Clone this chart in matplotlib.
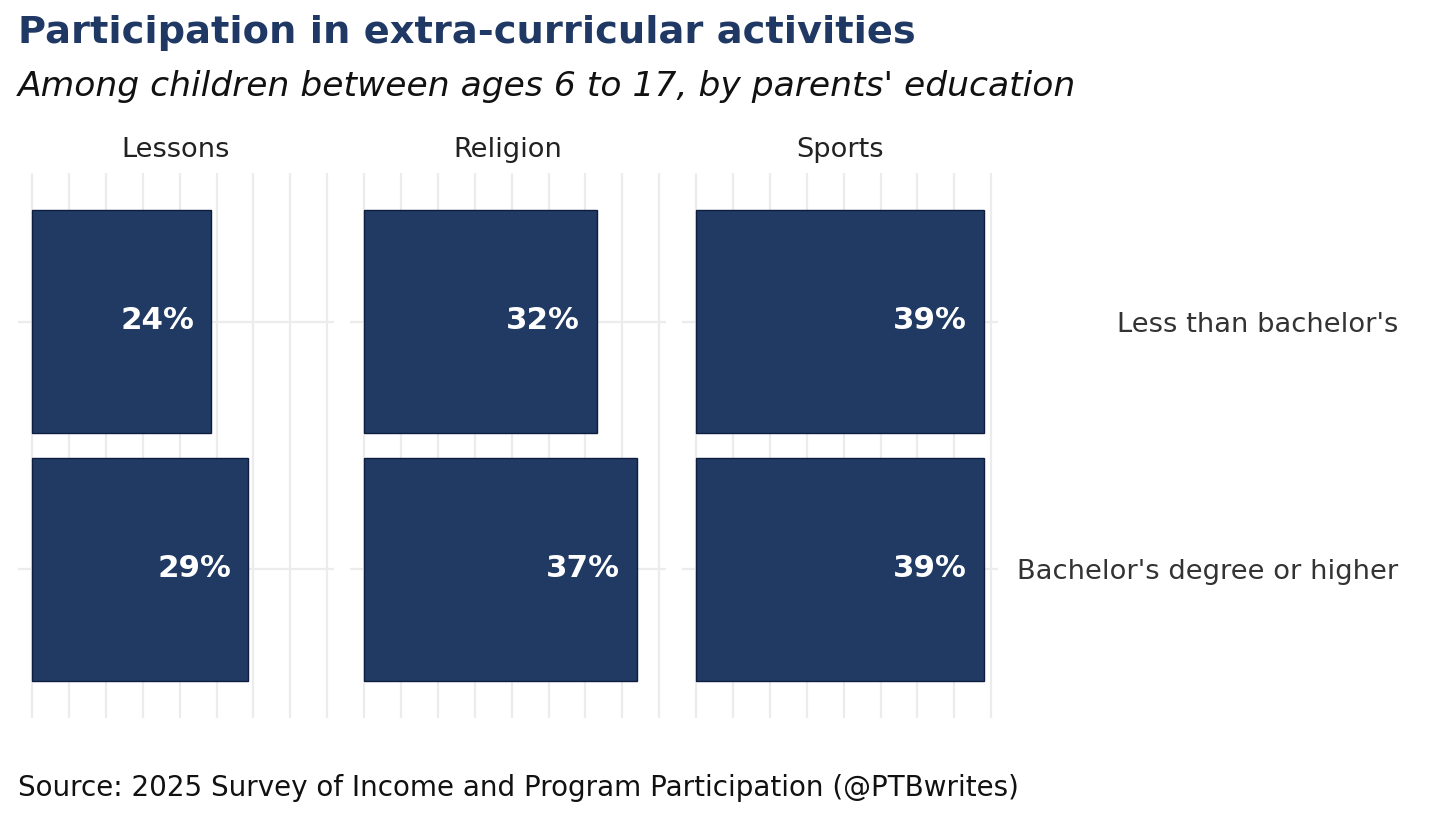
import matplotlib
matplotlib.use("Agg")
import matplotlib.pyplot as plt
from matplotlib.transforms import blended_transform_factory

# ---- data ----
activities = ["Lessons", "Religion", "Sports"]
education = ["Less than bachelor's", "Bachelor's degree or higher"]
less_than_ba = [24.3, 31.6, 39.0]
ba_or_higher = [29.3, 37.0, 39.0]
value_labels_less = ["24%", "32%", "39%"]
value_labels_ba = ["29%", "37%", "39%"]
grid_ticks = [0, 5, 10, 15, 20, 25, 30, 35, 40]

title = "Participation in extra-curricular activities"
subtitle = "Among children between ages 6 to 17, by parents' education"
source = "Source: 2025 Survey of Income and Program Participation (@PTBwrites)"

# ---- style ----
W, H, DPI = 1456, 819, 100
NAVY = "#1f3864"
BAR = "#213a64"
EDGE = "#0e1d3d"
GRID = "#ececec"
TXT = "#333333"
FONT = "DejaVu Sans"
plt.rcParams["font.family"] = [FONT]

fig = plt.figure(figsize=(W / DPI, H / DPI), dpi=DPI)
renderer = fig.canvas.get_renderer()


def fit_size(s, target_px, **kw):
    t = fig.text(0, 0, s, fontsize=20, **kw)
    w = t.get_window_extent(renderer).width
    t.remove()
    return 20 * target_px / w


def px_x(x):
    return x / W


def px_y(y):
    return 1 - y / H


# panels (pixel coordinates of the reference)
panel_left = [18, 350, 682]
panel_w = 316
top, bottom = 173, 718

xmin, xmax = 0.0, 39.0
pad = 0.05 * (xmax - xmin)

lab_size = fit_size("24%", 74, fontweight="bold")
strip_size = fit_size("Lessons", 108)
ylab_size = fit_size("Less than bachelor's", 280)

axes = []
for i, act in enumerate(activities):
    ax = fig.add_axes([px_x(panel_left[i]), px_y(bottom),
                       panel_w / W, (bottom - top) / H])
    axes.append(ax)
    ypos = [1, 2]
    vals = [less_than_ba[i], ba_or_higher[i]]
    labs = [value_labels_less[i], value_labels_ba[i]]
    ax.barh(ypos, vals, height=0.9, color=BAR, edgecolor=EDGE,
            linewidth=1.0, zorder=3)
    for y, v, l in zip(ypos, vals, labs):
        ax.annotate(l, xy=(v, y), xytext=(-17 * 72 / DPI, 1 * 72 / DPI),
                    textcoords="offset points", ha="right", va="center",
                    color="white", fontsize=lab_size, fontweight="bold",
                    zorder=4)
    ax.set_xlim(xmin - pad, xmax + pad)
    ax.set_ylim(2.6, 0.4)
    for g in grid_ticks:
        ax.axvline(g, color=GRID, linewidth=1.6, zorder=1)
    for y in ypos:
        ax.axhline(y, color=GRID, linewidth=1.6, zorder=1)
    for s in ax.spines.values():
        s.set_visible(False)
    ax.set_xticks([])
    ax.set_yticks([])
    ax.text(0.5, px_y(157), act,
            transform=blended_transform_factory(ax.transAxes, fig.transFigure),
            ha="center", va="baseline", fontsize=strip_size, color="#222222")

# right-hand row labels on the last panel
ax = axes[-1]
ax.yaxis.tick_right()
ax.set_yticks([1, 2])
ax.set_yticklabels(education, fontsize=ylab_size, color=TXT)
ax.tick_params(axis="y", length=0, pad=(1398 - (panel_left[-1] + panel_w)) * 72 / DPI)
for t in ax.get_yticklabels():
    t.set_horizontalalignment("right")

# titles and caption
fig.text(px_x(18), px_y(43), title, fontsize=fit_size(title, 897, fontweight="bold"),
         fontweight="bold", color=NAVY, ha="left", va="baseline")
fig.text(px_x(18), px_y(96), subtitle, fontsize=fit_size(subtitle, 1057, style="italic"),
         style="italic", color="#111111", ha="left", va="baseline")
fig.text(px_x(18), px_y(796), source, fontsize=fit_size(source, 999),
         color="#111111", ha="left", va="baseline")

fig.savefig("out.png", dpi=DPI, facecolor="white")
